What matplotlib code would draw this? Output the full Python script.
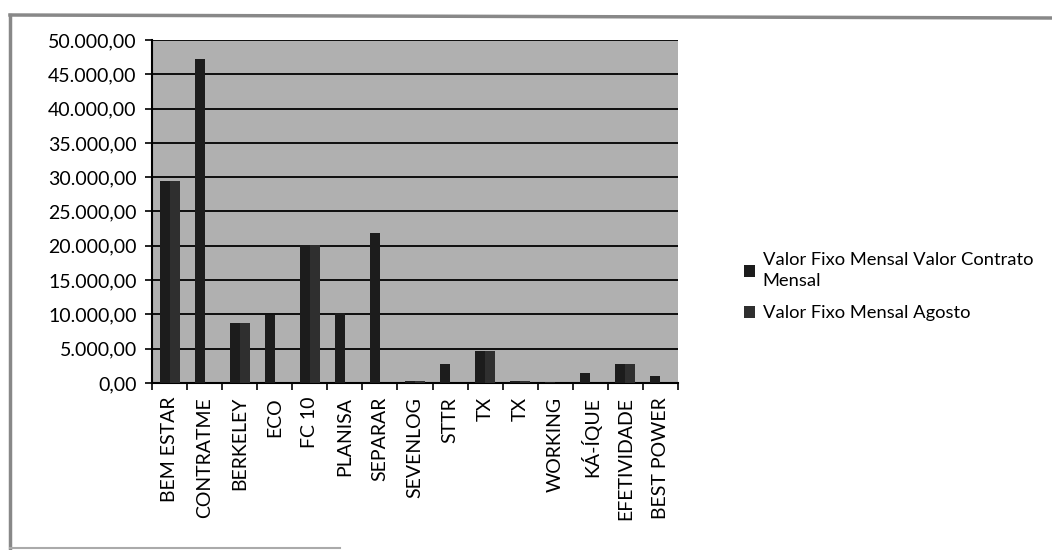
import numpy as np
import matplotlib.pyplot as plt
from matplotlib.ticker import FuncFormatter, FixedLocator
from matplotlib.lines import Line2D

plt.rcParams['font.family'] = ['Lato', 'DejaVu Sans']

# values
empresas = ['BEM ESTAR', 'CONTRATME', 'BERKELEY', 'ECO', 'FC 10', 'PLANISA',
            'SEPARAR', 'SEVENLOG', 'STTR', 'TX', 'TX', 'WORKING', 'KÁ-ÍQUE',
            'EFETIVIDADE', 'BEST POWER']
contrato = [29500, 47300, 8800, 9900, 20100, 10200, 21900, 350, 2700, 4700,
            250, 150, 1450, 2750, 950]
agosto = [29500, 0, 8800, 0, 20100, 0, 0, 350, 0, 4700, 250, 0, 0, 2750, 0]
serie_nomes = ['Valor Fixo Mensal Valor Contrato\nMensal', 'Valor Fixo Mensal Agosto']


def br_fmt(v, pos):
    s = '{:,.2f}'.format(v)
    return s.replace(',', 'X').replace('.', ',').replace('X', '.')


fig = plt.figure(figsize=(10.52, 5.5), dpi=100)
ax = fig.add_axes([152 / 1052, 1 - 383 / 550, 526 / 1052, 343 / 550])
ax.set_facecolor('#b0b0b0')

x = np.arange(len(empresas))
w = 0.286
ax.bar(x - w / 2, contrato, w, color='#1c1c1c', label=serie_nomes[0], zorder=3)
ax.bar(x + w / 2, agosto, w, color='#2f2f2f', label=serie_nomes[1], zorder=3)

ax.set_xlim(-0.5, len(empresas) - 0.5)
ax.set_ylim(0, 50000)
ax.set_yticks(np.arange(0, 50001, 5000))
ax.yaxis.set_major_formatter(FuncFormatter(br_fmt))
ax.grid(axis='y', color='black', linewidth=1.3, zorder=1)
ax.set_axisbelow(True)

ax.set_xticks(x)
ax.set_xticklabels(empresas, rotation=90)
ax.xaxis.set_minor_locator(FixedLocator(np.arange(-0.5, len(empresas), 1)))
ax.tick_params(axis='x', which='major', length=0, pad=10, labelsize=14)
ax.tick_params(axis='x', which='minor', length=5, width=1.2, direction='out')
ax.tick_params(axis='y', length=5, width=1.2, labelsize=14, pad=6)

for s in ['top', 'right']:
    ax.spines[s].set_visible(False)
ax.spines['left'].set_linewidth(1.5)
ax.spines['bottom'].set_linewidth(1.5)

leg = ax.legend(loc='center left', bbox_to_anchor=(1.095, 0.28), frameon=False,
                fontsize=13.2, handlelength=0.6, handleheight=0.6,
                handletextpad=0.4, labelspacing=0.9)
for t in leg.get_texts():
    t.set_linespacing(1.35)

# scanned border (left, top, partial bottom)
fig.add_artist(Line2D([10 / 1052, 10 / 1052], [1 - 15 / 550, 1 - 548 / 550],
                      transform=fig.transFigure, color='#888888', lw=2.5))
fig.add_artist(Line2D([10 / 1052, 1], [1 - 15 / 550, 1 - 18 / 550],
                      transform=fig.transFigure, color='#888888', lw=2.5))
fig.add_artist(Line2D([10 / 1052, 340 / 1052], [1 - 548 / 550, 1 - 548 / 550],
                      transform=fig.transFigure, color='#aaaaaa', lw=1.5))

fig.savefig('out.png', dpi=100)
